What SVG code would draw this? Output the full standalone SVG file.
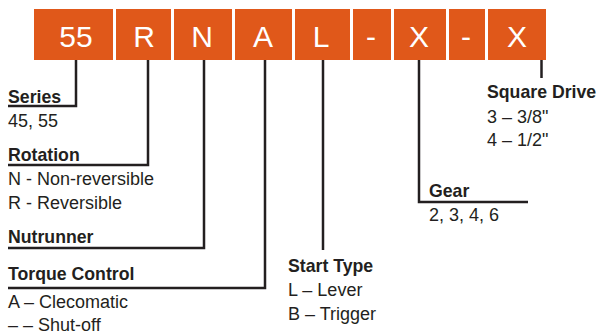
<svg xmlns="http://www.w3.org/2000/svg" width="598" height="336" viewBox="0 0 598 336">
<style>
.seg{fill:#e0581a}
.code{font-family:"Liberation Sans",Arial,sans-serif;font-size:30px;fill:#ffffff;text-anchor:middle}
.h{font-family:"Liberation Sans",Arial,sans-serif;font-size:17.7px;font-weight:bold;fill:#231f20}
.t{font-family:"Liberation Sans",Arial,sans-serif;font-size:18px;fill:#231f20}
.ln{fill:none;stroke:#231f20;stroke-width:2.5}
</style>
<rect width="598" height="336" fill="#ffffff"/>
<g id="seg-series"><rect class="seg" x="34" y="9" width="79" height="51"/><text class="code" x="76" y="47">55</text></g>
<g id="seg-rotation"><rect class="seg" x="116" y="9" width="55" height="51"/><text class="code" x="144" y="47">R</text></g>
<g id="seg-nutrunner"><rect class="seg" x="174" y="9" width="58" height="51"/><text class="code" x="202" y="47">N</text></g>
<g id="seg-torque"><rect class="seg" x="235" y="9" width="57" height="51"/><text class="code" x="263" y="47">A</text></g>
<g id="seg-start"><rect class="seg" x="295" y="9" width="55" height="51"/><text class="code" x="321" y="47">L</text></g>
<g id="seg-dash1"><rect class="seg" x="353" y="9" width="38" height="51"/><text class="code" x="371" y="47">-</text></g>
<g id="seg-gear"><rect class="seg" x="394" y="9" width="52" height="51"/><text class="code" x="419" y="47">X</text></g>
<g id="seg-dash2"><rect class="seg" x="449" y="9" width="36" height="51"/><text class="code" x="466" y="47">-</text></g>
<g id="seg-drive"><rect class="seg" x="488" y="9" width="58" height="51"/><text class="code" x="517" y="47">X</text></g>
<g id="connectors">
<path class="ln" d="M76,60 V106 H8"/>
<path class="ln" d="M148,60 V165 H8"/>
<path class="ln" d="M204,60 V248 H8"/>
<path class="ln" d="M265,60 V288 H8"/>
<path class="ln" d="M323,60 V250"/>
<path class="ln" d="M419,60 V202 H528"/>
<path class="ln" d="M541.5,60 V78"/>
</g>
<g id="label-series"><text class="h" x="8" y="103">Series</text><text class="t" x="8" y="127">45, 55</text></g>
<g id="label-rotation"><text class="h" x="8" y="161">Rotation</text><text class="t" x="8" y="185">N - Non-reversible</text><text class="t" x="8" y="209">R - Reversible</text></g>
<g id="label-nutrunner"><text class="h" x="8" y="243">Nutrunner</text></g>
<g id="label-torque"><text class="h" x="8" y="280">Torque Control</text><text class="t" x="8" y="308">A – Clecomatic</text><text class="t" x="8" y="331">– – Shut-off</text></g>
<g id="label-start"><text class="h" x="288" y="272">Start Type</text><text class="t" x="288" y="296">L – Lever</text><text class="t" x="288" y="320">B – Trigger</text></g>
<g id="label-gear"><text class="h" x="429" y="197">Gear</text><text class="t" x="429" y="221">2, 3, 4, 6</text></g>
<g id="label-drive"><text class="h" x="487" y="98">Square Drive</text><text class="t" x="487" y="123">3 – 3/8"</text><text class="t" x="487" y="146">4 – 1/2"</text></g>
</svg>
